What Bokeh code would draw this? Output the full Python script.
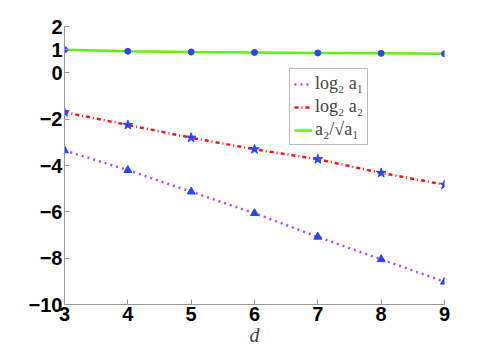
from bokeh.plotting import figure
from bokeh.models import FixedTicker, Range1d, Legend, LegendItem
from bokeh.embed import file_html
from bokeh.resources import INLINE

d = [3, 4, 5, 6, 7, 8, 9]
log2_a1 = [-3.35, -4.2, -5.13, -6.06, -7.08, -8.05, -9.02]
log2_a2 = [-1.7, -2.25, -2.8, -3.3, -3.73, -4.32, -4.83]
ratio = [1.0, 0.93, 0.9, 0.88, 0.86, 0.84, 0.82]
x_ticks = [3, 4, 5, 6, 7, 8, 9]
y_ticks = [-10, -8, -6, -4, -2, 0, 1, 2]
labels = ["log\u2082 a\u2081", "log\u2082 a\u2082", "a\u2082/\u221Aa\u2081"]

p = figure(width=491, height=348, output_backend="svg", toolbar_location=None,
           x_range=Range1d(3, 9), y_range=Range1d(-10, 2),
           min_border_left=64, min_border_right=47, min_border_top=26, min_border_bottom=39)
p.outline_line_color = None
p.grid.visible = False
p.background_fill_color = "white"
p.border_fill_color = "white"

for ax in (p.xaxis[0], p.yaxis[0]):
    ax.axis_line_color = "#999999"
    ax.major_tick_line_color = "#999999"
    ax.major_tick_in = 5
    ax.major_tick_out = 0
    ax.minor_tick_line_color = None
    ax.major_label_text_font = "Liberation Sans"
    ax.major_label_text_font_style = "bold"
    ax.major_label_text_font_size = "20px"
    ax.major_label_text_color = "black"

p.xaxis.ticker = FixedTicker(ticks=x_ticks)
p.yaxis.ticker = FixedTicker(ticks=y_ticks)
p.yaxis.major_label_overrides = {t: (("\u2212" + str(-t)) if t < 0 else str(t)) for t in y_ticks}
p.xaxis.major_label_standoff = 2
p.yaxis.major_label_standoff = 2
p.xaxis.axis_label = "d"
p.xaxis.axis_label_text_font = "Liberation Serif"
p.xaxis.axis_label_text_font_style = "italic"
p.xaxis.axis_label_text_font_size = "20px"
p.xaxis.axis_label_standoff = 0

purple = "#b04cff"
red = "#ff1010"
green = "#66ee11"
blue = "#2846ff"

l1 = p.line(d, log2_a1, line_color=purple, line_width=2.5, line_dash="2 4")
l2 = p.line(d, log2_a2, line_color=red, line_width=2.5, line_dash="4 3 1 3")
l3 = p.line(d, ratio, line_color=green, line_width=2.5)
p.scatter(d, log2_a1, marker="triangle", size=8, color=blue)
p.scatter(d, log2_a2, marker="star", size=10, color=blue)
p.scatter(d, ratio, marker="circle", size=6, color=blue)

legend = Legend(items=[LegendItem(label=labels[0], renderers=[l1]),
                       LegendItem(label=labels[1], renderers=[l2]),
                       LegendItem(label=labels[2], renderers=[l3])],
                location=(225, 159))
legend.label_text_font = "Liberation Serif"
legend.label_text_font_size = "18px"
legend.label_height = 18
legend.glyph_height = 18
legend.glyph_width = 18
legend.label_standoff = 3
legend.spacing = 2
legend.padding = 4
legend.margin = 0
legend.border_line_color = "#777777"
legend.border_line_width = 1
legend.background_fill_alpha = 1
p.add_layout(legend, "center")

open("out.html", "w").write(file_html(p, INLINE))
